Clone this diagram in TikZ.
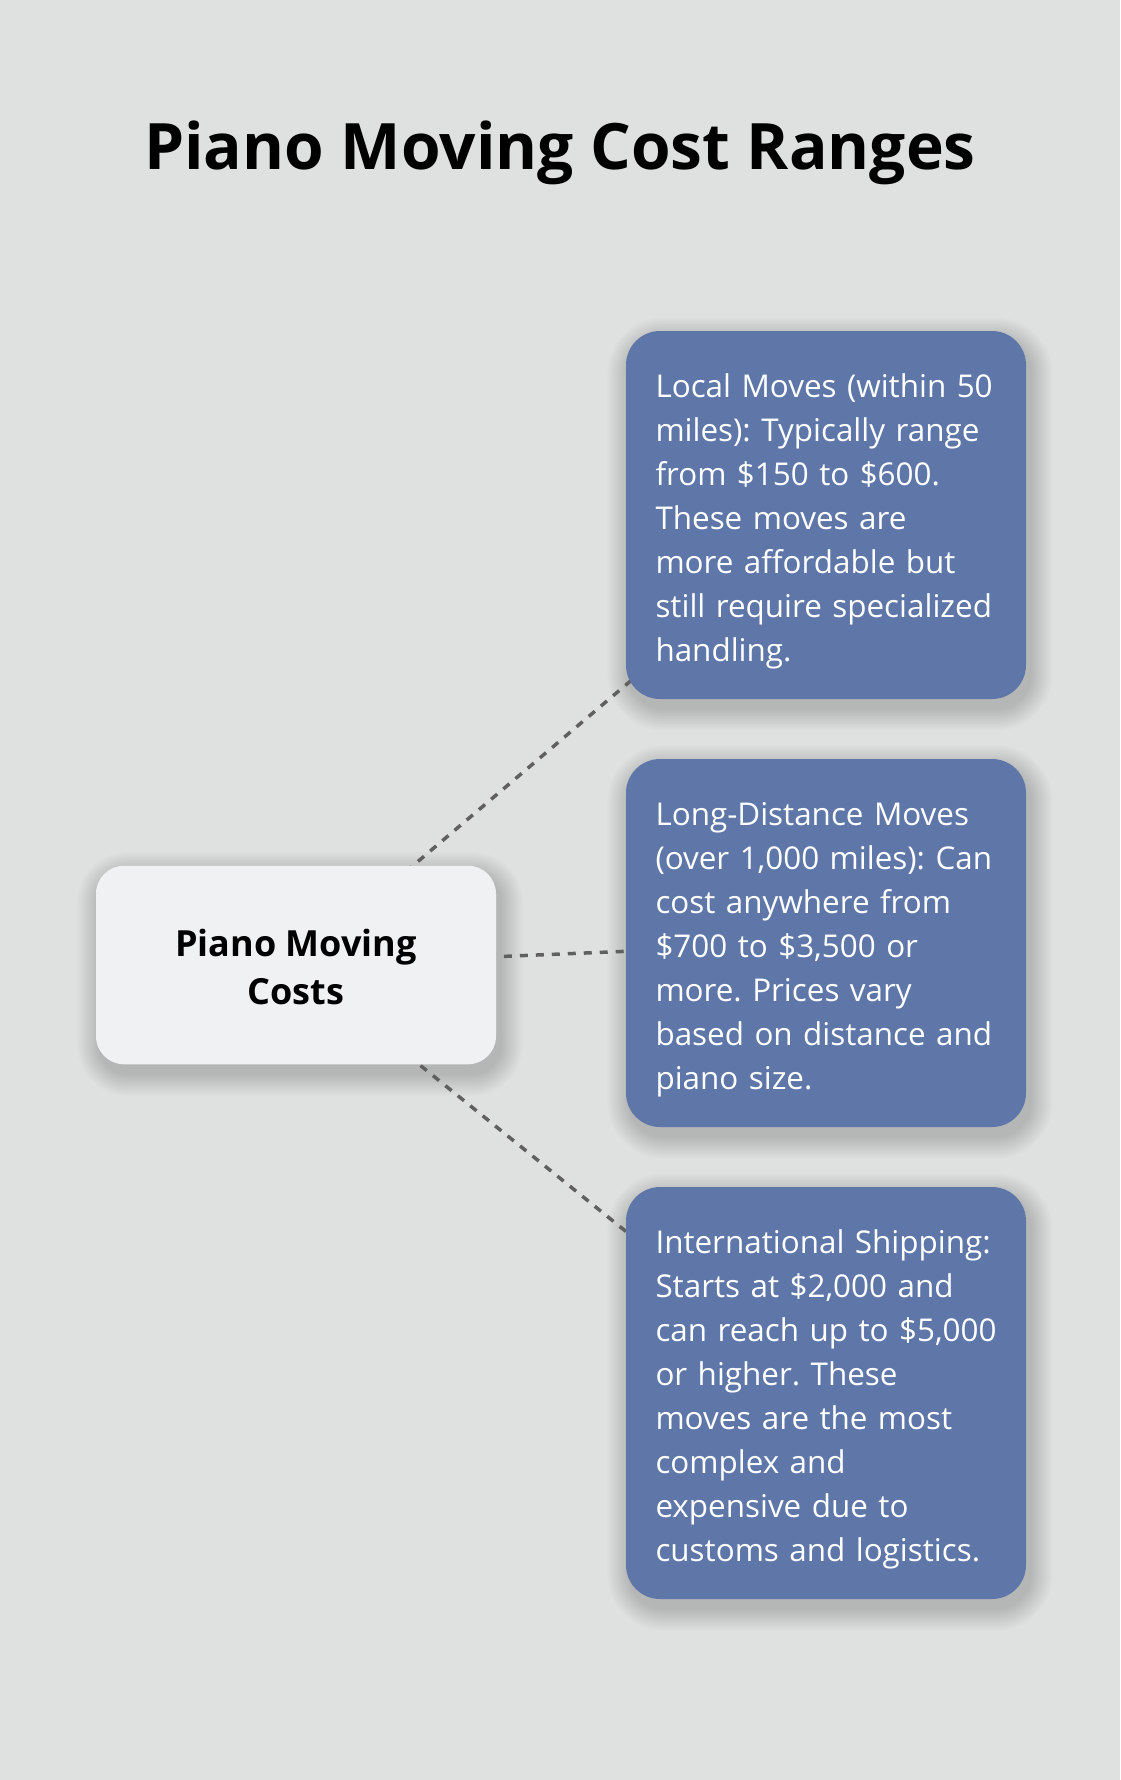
\documentclass[tikz,border=0pt]{standalone}
\usepackage{fontspec}
\setmainfont{Open Sans}
\usetikzlibrary{backgrounds}
\definecolor{bgc}{HTML}{DFE1E0}
\definecolor{boxblue}{HTML}{5E77A8}
\definecolor{centerc}{HTML}{F0F1F2}
\definecolor{linec}{HTML}{606060}
\frenchspacing
\newcommand\softshadow[2]{%
  \foreach \r [evaluate=\r as \rr using #2+1.6*\r, evaluate=\r as \e using 1.6*\r] in {1,...,14}{%
    \fill[black, opacity=0.012, rounded corners=\rr pt]
      ([shift={(-\e+4,\e+9)}]#1.south west) rectangle ([shift={(\e+4,-\e+9)}]#1.north east);
  }%
}
\begin{document}
\begin{tikzpicture}[x=1pt,y=-1pt,
  bluebox/.style={fill=boxblue, text=white, rounded corners=34pt, text width=341pt, inner xsep=29.5pt, inner ysep=0pt, align=left, font=\fontsize{31.4}{44}\selectfont},
  centerbox/.style={fill=centerc, text=black, rounded corners=28pt, minimum width=400pt, minimum height=198.5pt, inner sep=0pt, align=center, font=\fontsize{36}{47.7}\selectfont\bfseries},
  connector/.style={draw=linec, line width=3.5pt, dash pattern=on 8pt off 8pt}]
\useasboundingbox (0,0) rectangle (1120,1780);
\node (title) at (560,153) {\fontsize{64}{77}\selectfont\bfseries Piano Moving Cost Ranges};
\node[centerbox] (center) at (296,965) {\begin{tabular}{@{}c@{}}\rule{0pt}{44.8pt}Piano Moving\\Costs\end{tabular}};
\node[bluebox, minimum height=368pt] (local) at (826,515) {\begin{tabular}{@{}l@{}}\rule{0pt}{41.8pt}Local Moves (within 50\\miles): Typically range\\from \$150 to \$600.\\These moves are\\more affordable but\\still require specialized\\handling.\end{tabular}};
\node[bluebox, minimum height=368pt] (long) at (826,943) {\begin{tabular}{@{}l@{}}\rule{0pt}{41.8pt}Long-Distance Moves\\(over 1,000 miles): Can\\cost anywhere from\\\$700 to \$3,500 or\\more. Prices vary\\based on distance and\\piano size.\end{tabular}};
\node[bluebox, minimum height=412pt] (intl) at (826,1393) {\begin{tabular}{@{}l@{}}\rule{0pt}{41.8pt}International Shipping:\\Starts at \$2,000 and\\can reach up to \$5,000\\or higher. These\\moves are the most\\complex and\\expensive due to\\customs and logistics.\end{tabular}};
\begin{scope}[on background layer]
\fill[bgc] (0,0) rectangle (1120,1780);
\softshadow{center}{28}
\softshadow{local}{34}
\softshadow{long}{34}
\softshadow{intl}{34}
\draw[connector] (center.center) -- (local.center);
\draw[connector] (center.center) -- (long.center);
\draw[connector] (center.center) -- (intl.center);
\end{scope}
\end{tikzpicture}
\end{document}
